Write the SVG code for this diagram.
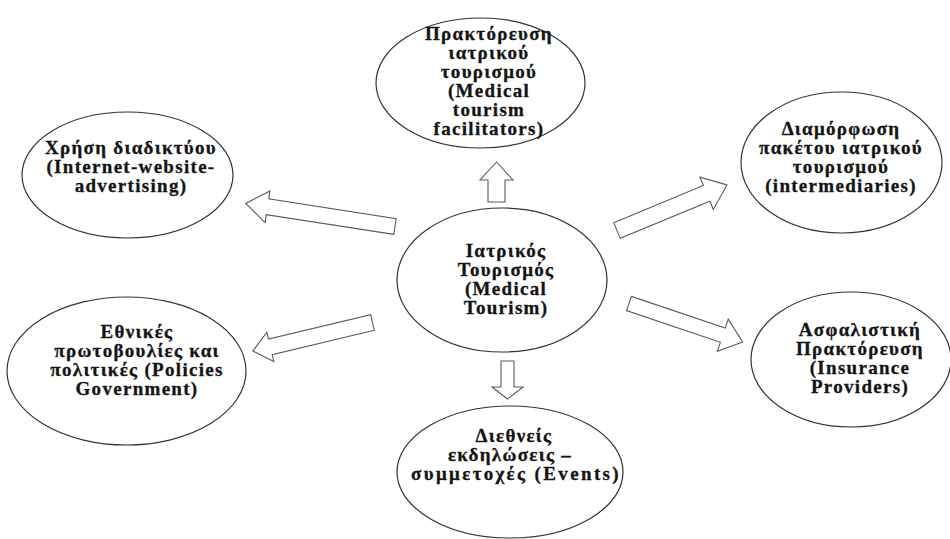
<svg xmlns="http://www.w3.org/2000/svg" width="950" height="539" viewBox="0 0 950 539">
  <style>
    .node ellipse { fill: #ffffff; stroke: #333333; stroke-width: 1.2; }
    .node text { font-family: "Liberation Serif", "Times New Roman", serif; font-weight: bold; font-size: 19px; letter-spacing: 1.3px; fill: #141414; stroke: #141414; stroke-width: 0.3; text-anchor: middle; }
    .arrow { fill: #ffffff; stroke: #5a5a5a; stroke-width: 1.1; stroke-linejoin: miter; }
  </style>
  <rect width="950" height="539" fill="#ffffff"/>

  <!-- block arrows radiating from the central node -->
  <g id="connectors">
    <!-- shape: tail at origin, tip at (L,0) -->
    <path class="arrow" transform="translate(496.5,202) rotate(-90)" d="M0,-8.5 L22,-8.5 L22,-16.5 L40,0 L22,16.5 L22,8.5 L0,8.5 Z"/>
    <path class="arrow" transform="translate(507.5,361) rotate(90)" d="M0,-6.5 L26,-6.5 L26,-15.5 L38,0 L26,15.5 L26,6.5 L0,6.5 Z"/>
    <path class="arrow" transform="translate(395,226.5) rotate(188.8)" d="M0,-8 L129,-8 L129,-16 L151,0 L129,16 L129,8 L0,8 Z"/>
    <path class="arrow" transform="translate(617,230.5) rotate(-22.5)" d="M0,-8.5 L97,-8.5 L97,-17.5 L119,0 L97,17.5 L97,8.5 L0,8.5 Z"/>
    <path class="arrow" transform="translate(372.5,322.5) rotate(166.6)" d="M0,-8 L105,-8 L105,-15 L123,0 L105,15 L105,8 L0,8 Z"/>
    <path class="arrow" transform="translate(629,303.5) rotate(18.7)" d="M0,-7.5 L99,-7.5 L99,-17 L120,0 L99,17 L99,7.5 L0,7.5 Z"/>
  </g>

  <g id="node-center" class="node">
    <ellipse cx="502" cy="280" rx="105" ry="72"/>
    <text x="506" y="257">Ιατρικός</text>
    <text x="506" y="276">Τουρισμός</text>
    <text x="506" y="295">(Medical</text>
    <text x="506" y="314">Tourism)</text>
  </g>

  <g id="node-facilitators" class="node">
    <ellipse cx="480.5" cy="83" rx="104.5" ry="65"/>
    <text x="489" y="40">Πρακτόρευση</text>
    <text x="489" y="59">ιατρικού</text>
    <text x="489" y="78">τουρισμού</text>
    <text x="489" y="97">(Medical</text>
    <text x="489" y="116">tourism</text>
    <text x="489" y="135">facilitators)</text>
  </g>

  <g id="node-internet" class="node">
    <ellipse cx="127.5" cy="175" rx="105.5" ry="63"/>
    <text x="131" y="154">Χρήση διαδικτύου</text>
    <text x="131" y="173">(Internet-website-</text>
    <text x="131" y="192">advertising)</text>
  </g>

  <g id="node-intermediaries" class="node">
    <ellipse cx="841.5" cy="162.5" rx="100.5" ry="70.5"/>
    <text x="841" y="135">Διαμόρφωση</text>
    <text x="841" y="154">πακέτου ιατρικού</text>
    <text x="841" y="173">τουρισμού</text>
    <text x="841" y="192">(intermediaries)</text>
  </g>

  <g id="node-policies" class="node">
    <ellipse cx="126.5" cy="371" rx="119.5" ry="74"/>
    <text x="137" y="338">Εθνικές</text>
    <text x="137" y="357">πρωτοβουλίες και</text>
    <text x="137" y="376">πολιτικές (Policies</text>
    <text x="137" y="395">Government)</text>
  </g>

  <g id="node-insurance" class="node">
    <ellipse cx="851" cy="359.5" rx="100" ry="67.5"/>
    <text x="860" y="336">Ασφαλιστική</text>
    <text x="860" y="355">Πρακτόρευση</text>
    <text x="860" y="374">(Insurance</text>
    <text x="860" y="393">Providers)</text>
  </g>

  <g id="node-events" class="node">
    <ellipse cx="510" cy="472" rx="113" ry="66"/>
    <text x="514" y="442">Διεθνείς</text>
    <text x="510" y="461">εκδηλώσεις –</text>
    <text x="515.5" y="480" textLength="209" lengthAdjust="spacing">συμμετοχές (Events)</text>
  </g>
</svg>
